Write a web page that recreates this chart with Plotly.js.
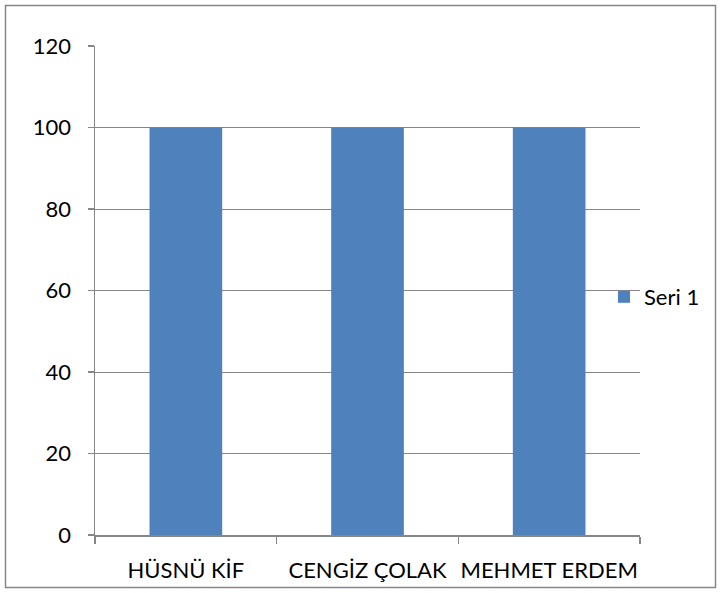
<!DOCTYPE html>
<html>
<head>
<meta charset="utf-8">
<script src="https://cdn.plot.ly/plotly-3.0.1.min.js"></script>
<style>html,body{margin:0;padding:0;background:#fff;}#chart{width:720px;height:593px;}</style>
</head>
<body>
<div id="chart"></div>
<script>
const categories = ["HÜSNÜ KİF", "CENGİZ ÇOLAK", "MEHMET ERDEM"];
const seri1 = [100, 100, 100];
const seriesName = "Seri 1";
const yTicks = [0, 20, 40, 60, 80, 100, 120];

const W = 720, H = 593;
const m = {l: 95, r: 80, t: 46, b: 58};
const pw = W - m.l - m.r, ph = H - m.t - m.b;
const px = v => (v - m.l) / pw;
const py = v => (H - m.b - v) / ph;

const font = {family: "Lato, 'Open Sans', sans-serif", size: 22, color: "#000"};

Plotly.newPlot("chart", [{
  type: "bar",
  x: categories,
  y: seri1,
  name: seriesName,
  width: 0.4,
  marker: {color: "#4F81BD", line: {width: 0}},
  showlegend: true,
  hoverinfo: "x+y"
}], {
  width: W, height: H,
  margin: m,
  paper_bgcolor: "#fff",
  plot_bgcolor: "#fff",
  font: font,
  showlegend: true,
  legend: {
    x: px(604), xanchor: "left", y: py(297), yanchor: "middle",
    bgcolor: "rgba(0,0,0,0)", font: font, borderwidth: 0, itemwidth: 30
  },
  xaxis: {
    type: "category",
    showline: true, linecolor: "#868686", linewidth: 1.5,
    ticks: "outside", tickson: "boundaries", ticklen: 7, tickcolor: "#868686", tickwidth: 1.5,
    showgrid: false, zeroline: false,
    tickangle: 0,
    ticklabelstandoff: 15,
    tickfont: font
  },
  yaxis: {
    range: [0, 120], tickvals: yTicks,
    showline: true, linecolor: "#868686", linewidth: 1.5,
    ticks: "outside", ticklen: 6, tickcolor: "#868686", tickwidth: 1.5,
    showgrid: true, gridcolor: "#868686", gridwidth: 1,
    zeroline: false,
    ticklabelstandoff: 12,
    tickfont: font
  },
  shapes: [{
    type: "rect", xref: "paper", yref: "paper",
    x0: px(5.5), x1: px(715.5), y0: py(587.5), y1: py(5.5),
    line: {color: "#868686", width: 1.5}, fillcolor: "rgba(0,0,0,0)", layer: "below"
  }]
}, {displayModeBar: false, staticPlot: true});
</script>
</body>
</html>
